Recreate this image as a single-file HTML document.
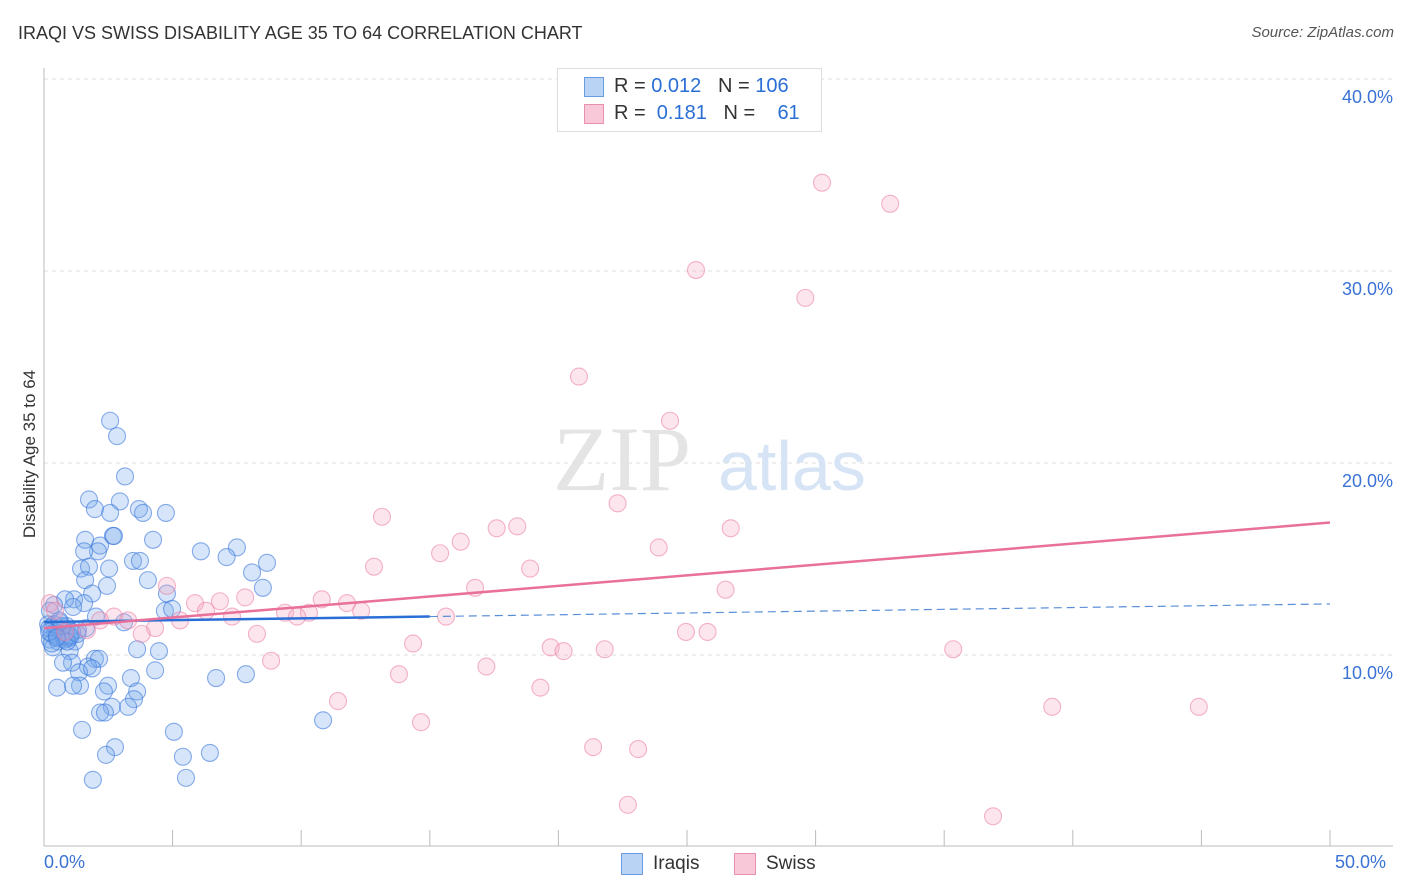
<!DOCTYPE html>
<html><head><meta charset="utf-8">
<style>
body{margin:0;background:#fff;font-family:"Liberation Sans",sans-serif;}
#wrap{position:relative;width:1406px;height:892px;overflow:hidden;}
.t{position:absolute;white-space:nowrap;}
</style></head>
<body>
<div id="wrap">
<div class="t" style="left:18px;top:23px;font-size:18px;color:#333;">IRAQI VS SWISS DISABILITY AGE 35 TO 64 CORRELATION CHART</div>
<div class="t" style="right:12px;top:24px;font-size:15px;color:#555;font-style:italic;">Source: ZipAtlas.com</div>
<svg id="plot" width="1406" height="892" style="position:absolute;left:0;top:0;"></svg>
</div>
<script>
const xTickVals=[0,5,10,15,20,25,30,35,40,45,50];
const yTickVals=[10,20,30,40];
const yTickLabels=["10.0%","20.0%","30.0%","40.0%"];
const iraqiX=[2.57,2.84,3.15,1.75,2.95,1.98,2.57,3.69,3.85,4.74,2.68,2.72,1.6,2.18,2.1,1.56,4.24,7.5,6.1,7.1,8.67,3.46,3.73,1.44,1.75,2.53,8.09,4.04,1.6,2.45,8.51,4.78,1.87,1.17,0.82,0.39,1.56,1.13,0.23,4.7,4.98,2.02,3.11,0.62,0.16,0.89,1.63,1.32,0.43,0.78,1.01,0.23,0.54,1.2,0.35,1.0,3.62,4.47,1.98,2.14,1.09,0.74,1.71,4.32,1.36,1.87,3.38,6.69,7.85,1.4,0.51,1.13,2.49,2.33,3.62,3.5,2.64,3.27,2.18,2.37,10.85,5.05,1.48,2.76,2.41,5.4,6.45,5.52,1.9,0.3,0.6,0.9,0.2,0.5,0.8,1.1,0.4,0.7,0.3,0.6,1.0,0.2,0.9,1.3,0.5];
const iraqiY=[22.2,21.4,19.3,18.1,18.0,17.6,17.4,17.6,17.4,17.4,16.2,16.2,16.0,15.7,15.4,15.4,16.0,15.6,15.4,15.1,14.8,14.9,14.9,14.5,14.6,14.5,14.3,13.9,13.9,13.6,13.5,13.2,13.2,12.9,12.9,12.6,12.7,12.5,12.3,12.3,12.4,12.0,11.7,11.7,11.6,11.5,11.4,11.3,11.2,11.0,10.9,10.8,10.7,10.7,10.4,10.2,10.3,10.2,9.8,9.8,9.6,9.6,9.4,9.2,9.1,9.3,8.8,8.8,9.0,8.4,8.3,8.4,8.4,8.1,8.1,7.7,7.3,7.3,7.0,7.0,6.6,6.0,6.1,5.2,4.8,4.7,4.9,3.6,3.5,11.1,11.3,10.9,11.4,11.0,10.8,11.2,11.6,11.5,10.6,11.8,11.0,11.2,10.7,11.1,10.9];
const swissX=[30.25,32.9,25.35,29.6,20.8,24.34,22.3,13.14,18.4,17.6,26.7,16.2,15.4,23.9,12.83,18.9,16.76,4.78,26.5,7.82,10.8,5.87,6.84,11.78,6.3,12.33,9.37,10.3,7.31,9.84,15.63,2.72,3.27,2.18,5.29,4.32,1.67,3.8,8.28,24.96,25.8,14.35,19.7,20.2,21.8,35.35,8.83,17.2,13.8,19.3,11.43,39.2,44.9,14.66,21.35,23.1,22.7,36.9,0.23,0.43,0.82];
const swissY=[34.6,33.5,30.05,28.6,24.5,22.2,17.9,17.2,16.7,16.6,16.6,15.9,15.3,15.6,14.6,14.5,13.5,13.6,13.4,13.0,12.9,12.7,12.8,12.7,12.3,12.3,12.2,12.2,12.0,12.0,12.0,12.0,11.8,11.8,11.8,11.4,11.3,11.1,11.1,11.2,11.2,10.6,10.4,10.2,10.3,10.3,9.7,9.4,9.0,8.3,7.6,7.3,7.3,6.5,5.2,5.1,2.2,1.6,12.7,12.3,11.2];
const iraqiTrend=[11.72,12.66];
const swissTrend=[11.4,16.9];

const NS="http://www.w3.org/2000/svg";
const svg=document.getElementById('plot');
const X=v=>44+v*25.72;
const Y=v=>847-v*19.2;
function mk(tag,attrs,parent){const e=document.createElementNS(NS,tag);for(const k in attrs)e.setAttribute(k,attrs[k]);(parent||svg).appendChild(e);return e;}
yTickVals.forEach((v,i)=>{
  const g=mk('line',{x1:44,x2:1393,y1:Y(v),y2:Y(v),stroke:'#ddd','stroke-dasharray':'4,4'});
  
  
  const t=mk('text',{x:1393,y:Y(v)+24,'text-anchor':'end','font-size':18,fill:'#3a72d6','font-family':'Liberation Sans, sans-serif'});
  t.textContent=yTickLabels[i];
  
  
});
const ax=mk('line',{x1:44,x2:44,y1:68,y2:846,stroke:'#bbb'});


const bx=mk('line',{x1:44,x2:1393,y1:846,y2:846,stroke:'#bbb'});


xTickVals.forEach(v=>{
  const l=mk('line',{x1:X(v),x2:X(v),y1:830,y2:846,stroke:'#bbb'});
  
  
});
const wm=mk('text',{x:553,y:490,'font-size':92,fill:'#e4e4e4','font-family':'Liberation Serif, serif'});
wm.textContent='ZIP';


const wm2=mk('text',{x:718,y:490,'font-size':70,fill:'#d6e4f5','font-family':'Liberation Sans, sans-serif'});
wm2.textContent='atlas';


iraqiX.forEach((x,i)=>{
  const c=mk('circle',{cx:X(x),cy:Y(iraqiY[i]),r:8.5,fill:'rgba(120,170,235,0.3)',stroke:'rgba(60,120,220,0.6)','stroke-width':1.1});
  
  
});
swissX.forEach((x,i)=>{
  const c=mk('circle',{cx:X(x),cy:Y(swissY[i]),r:8.5,fill:'rgba(245,170,195,0.3)',stroke:'rgba(235,120,160,0.55)','stroke-width':1.1});
  
  
});
const iy=x=>iraqiTrend[0]+(iraqiTrend[1]-iraqiTrend[0])*x/50;
const l1=mk('line',{x1:X(0),y1:Y(iy(0)),x2:X(15),y2:Y(iy(15)),stroke:'#2a6fd6','stroke-width':2.5});


const l2=mk('line',{x1:X(15),y1:Y(iy(15)),x2:X(50),y2:Y(iy(50)),stroke:'#5a8fd8','stroke-width':1.2,'stroke-dasharray':'8,5'});


const l3=mk('line',{x1:X(0),y1:Y(swissTrend[0]),x2:X(50),y2:Y(swissTrend[1]),stroke:'#e8709a','stroke-width':2.5});


</script>
<div class="t" style="left:-60px;top:444px;width:180px;text-align:center;transform:rotate(-90deg);font-size:17px;color:#333;">Disability Age 35 to 64</div>
<div class="t" style="left:44px;top:852px;font-size:18px;color:#3a72d6;">0.0%</div>
<div class="t" style="left:1335px;top:852px;font-size:18px;color:#3a72d6;">50.0%</div>
<div style="position:absolute;left:557px;top:68px;width:263px;height:62px;border:1px solid #ddd;background:#fff;font-size:20px;color:#333;">
 <div style="position:absolute;left:26px;top:8px;width:18px;height:18px;background:#b9d3f5;border:1px solid #6a9be0;"></div>
 <div class="t" style="left:56px;top:6px;">R = <span style="color:#2a6fd6">0.012</span>&nbsp;&nbsp;&nbsp;N = <span style="color:#2a6fd6">106</span></div>
 <div style="position:absolute;left:26px;top:35px;width:18px;height:18px;background:#f8c8d8;border:1px solid #e890b0;"></div>
 <div class="t" style="left:56px;top:33px;">R = &nbsp;<span style="color:#2a6fd6">0.181</span>&nbsp;&nbsp;&nbsp;N = &nbsp;&nbsp;&nbsp;<span style="color:#2a6fd6">61</span></div>
</div>
<div style="position:absolute;left:621px;top:853px;font-size:19px;color:#333;">
 <div style="position:absolute;left:0;top:0;width:20px;height:20px;background:#b9d3f5;border:1px solid #6a9be0;"></div>
 <div class="t" style="left:32px;top:0;">Iraqis</div>
 <div style="position:absolute;left:113px;top:0;width:20px;height:20px;background:#f8c8d8;border:1px solid #e890b0;"></div>
 <div class="t" style="left:145px;top:0;">Swiss</div>
</div>
</body></html>
